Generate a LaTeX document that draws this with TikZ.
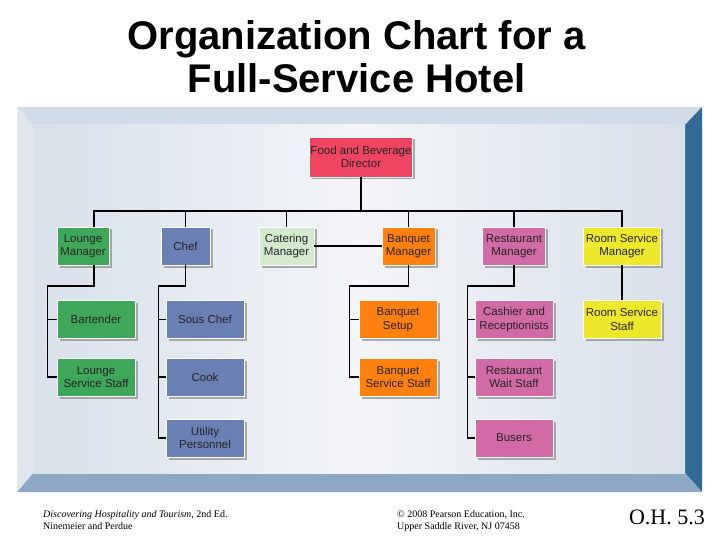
\documentclass[tikz,border=0pt]{standalone}
\usepackage{fontspec}
\setmainfont{Liberation Serif}
\newfontfamily\arialfont{Liberation Sans}
\usetikzlibrary{shadows}
\definecolor{kirmizi}{HTML}{EF4462}
\definecolor{yesil}{HTML}{3FA75A}
\definecolor{mavi}{HTML}{6A80B4}
\definecolor{acikYesil}{HTML}{D3EACE}
\definecolor{turuncu}{HTML}{FF800F}
\definecolor{pembe}{HTML}{D26BA5}
\definecolor{sari}{HTML}{EDE82B}
\definecolor{panelUst}{HTML}{D1DCE8}
\definecolor{panelAlt}{HTML}{8CA8C4}
\definecolor{panelSag}{HTML}{2F6A99}
\definecolor{panelSol}{HTML}{DFE6EE}
\definecolor{panelKenar}{HTML}{D8E0EA}
\definecolor{panelOrta}{HTML}{F3F5F8}

\begin{document}
\begin{tikzpicture}[x=1pt,y=-1pt,
  kutu/.style={draw=white,line width=0.7pt,align=center,inner sep=1pt,
    font=\arialfont\fontsize{11.5}{13.5}\selectfont,text=black!85,
    minimum height=38pt,minimum width=78pt,
    drop shadow={shadow xshift=2.5pt,shadow yshift=-2.5pt,fill=black!45,opacity=0.7}},
  hat/.style={line width=1.1pt}]
\useasboundingbox (0,0) rectangle (720,540);
% baslik
\node[anchor=base,font=\arialfont\bfseries\fontsize{40}{44}\selectfont] (baslik1) at (356.5,50) {Organization Chart for a};
\node[anchor=base,font=\arialfont\bfseries\fontsize{40}{44}\selectfont] (baslik2) at (356.5,93) {Full-Service Hotel};
% cerceve
\fill[panelUst] (17,107)--(702,107)--(685,125)--(33,125)--cycle;
\fill[panelSag] (702,107)--(702,492)--(685,473)--(685,125)--cycle;
\fill[panelAlt] (17,492)--(702,492)--(685,473)--(33,473)--cycle;
\fill[panelSol] (17,107)--(33,125)--(33,473)--(17,492)--cycle;
\shade[left color=panelKenar,right color=panelKenar,middle color=panelOrta] (33,125) rectangle (685,473);
% kutular
\node[kutu,fill=kirmizi,minimum width=103pt,minimum height=40pt] (fbd) at (361,157) {Food and Beverage\\Director};
\node[kutu,fill=yesil,minimum width=52pt] (lm) at (83,246) {Lounge\\Manager};
\node[kutu,fill=mavi,minimum width=49pt] (chef) at (185.5,246) {Chef};
\node[kutu,fill=acikYesil,minimum width=55pt] (cm) at (286.5,246) {Catering\\Manager};
\node[kutu,fill=turuncu,minimum width=53pt] (bm) at (408.5,246) {Banquet\\Manager};
\node[kutu,fill=pembe,minimum width=63pt] (rm) at (514,246) {Restaurant\\Manager};
\node[kutu,fill=sari,minimum width=77pt] (rsm) at (622,246) {Room Service\\Manager};
\node[kutu,fill=yesil] (bart) at (96,319.5) {Bartender};
\node[kutu,fill=yesil] (lss) at (96,377) {Lounge\\Service Staff};
\node[kutu,fill=mavi] (sous) at (205,319.5) {Sous Chef};
\node[kutu,fill=mavi] (cook) at (205,377) {Cook};
\node[kutu,fill=mavi] (util) at (205,438) {Utility\\Personnel};
\node[kutu,fill=turuncu] (bset) at (398,319.5) {Banquet\\Setup};
\node[kutu,fill=turuncu] (bss) at (398,377) {Banquet\\Service Staff};
\node[kutu,fill=pembe] (cash) at (514,319.5) {Cashier and\\Receptionists};
\node[kutu,fill=pembe] (rws) at (514,377) {Restaurant\\Wait Staff};
\node[kutu,fill=pembe] (bus) at (514,438) {Busers};
\node[kutu,fill=sari] (rss) at (622,319.5) {Room Service\\Staff};
% baglantilar
\coordinate (ustHat) at (0,211);
\coordinate (altHat) at (0,286);
\draw[hat] ([xshift=11pt]lm.north) |- (ustHat -| rsm.north) -- (rsm.north);
\draw[hat] (fbd.south) -- (fbd.south |- ustHat);
\draw[hat] (chef.north) -- (chef.north |- ustHat);
\draw[hat] (cm.north) -- (cm.north |- ustHat);
\draw[hat] (bm.north) -- (bm.north |- ustHat);
\draw[hat] (rm.north) -- (rm.north |- ustHat);
\draw[hat] (cm.east) -- (bm.west);
\draw[hat] ([xshift=11pt]lm.south) |- ([xshift=-9pt]bart.west |- altHat) |- (lss.west);
\draw[hat] (bart.west) -- ++(-9,0);
\draw[hat] (chef.south) |- ([xshift=-7.5pt]sous.west |- altHat) |- (util.west);
\draw[hat] (sous.west) -- ++(-7.5,0);
\draw[hat] (cook.west) -- ++(-7.5,0);
\draw[hat] (bm.south) |- ([xshift=-9.5pt]bset.west |- altHat) |- (bss.west);
\draw[hat] (bset.west) -- ++(-9.5,0);
\draw[hat] (rm.south) |- ([xshift=-7.5pt]cash.west |- altHat) |- (bus.west);
\draw[hat] (cash.west) -- ++(-7.5,0);
\draw[hat] (rws.west) -- ++(-7.5,0);
\draw[hat] (rsm.south) -- (rss.north);
% alt bilgi
\node[anchor=base west,font=\fontsize{10}{12}\selectfont,inner sep=0pt] (kitap) at (43,517) {\textit{Discovering Hospitality and Tourism}, 2nd Ed.};
\node[anchor=base west,font=\fontsize{10}{12}\selectfont,inner sep=0pt] (yazar) at (43,529) {Ninemeier and Perdue};
\node[anchor=base west,font=\fontsize{10}{12}\selectfont,inner sep=0pt] (telif) at (397,517) {\textcopyright{} 2008 Pearson Education, Inc.};
\node[anchor=base west,font=\fontsize{10}{12}\selectfont,inner sep=0pt] (adres) at (397,529) {Upper Saddle River, NJ 07458};
\node[anchor=base east,font=\fontsize{22}{24}\selectfont,inner sep=0pt] (sayfa) at (705,524) {O.H. 5.3};
\end{tikzpicture}
\end{document}
